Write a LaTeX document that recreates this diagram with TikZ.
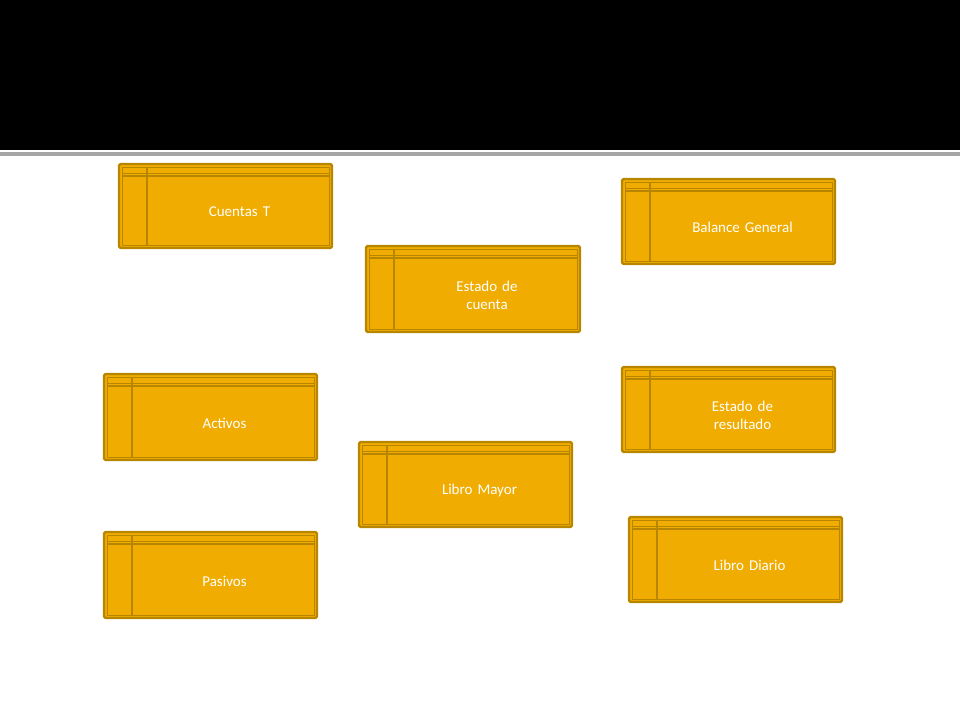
\documentclass[tikz,border=0pt]{standalone}
\usepackage{fontspec}
\setmainfont{Carlito}
\definecolor{gold}{HTML}{F0AC00}
\definecolor{goldd}{HTML}{B88500}
\tikzset{x=1pt,y=-1pt,
 outerbox/.style={draw=goldd,fill=gold,line width=2.2pt,rounded corners=1.5pt},
 innerline/.style={draw=goldd,line width=0.8pt},
 lbl/.style={text=white,font=\fontsize{15}{18}\selectfont,align=center,text width=130pt}}
\newcommand{\tbox}[6]{%
 \draw[outerbox] (#2,#3) rectangle (#4,#5);
 \draw[innerline] (#2+3,#3+3) rectangle (#4-3,#5-3);
 \draw[innerline] (#2+3,#3+9) -- (#4-3,#3+9);
 \draw[goldd,line width=2pt] (#2+3,#3+12) -- (#4-3,#3+12);
 \draw[goldd,line width=2.5pt] (#2+28,#3+3) -- (#2+28,#5-3);
 \node[lbl] (#1) at ({(#2+28+#4)/2},{(#3+12+#5)/2}) {#6};}
\begin{document}
\begin{tikzpicture}
\useasboundingbox (0,0) rectangle (960,720);
\fill[black] (0,0) rectangle (960,150);
\fill[black!35] (0,152) rectangle (960,156);
\tbox{ct}{119}{164}{332}{248}{Cuentas T}
\tbox{bg}{622}{179}{835}{264}{Balance General}
\tbox{ec}{366}{246}{580}{332}{Estado de\\cuenta}
\tbox{ac}{104}{374}{317}{460}{Activos}
\tbox{er}{622}{367}{835}{452}{Estado de\\resultado}
\tbox{lm}{359}{442}{572}{527}{Libro Mayor}
\tbox{pa}{104}{532}{317}{618}{Pasivos}
\tbox{ld}{629}{517}{842}{602}{Libro Diario}
\end{tikzpicture}
\end{document}
